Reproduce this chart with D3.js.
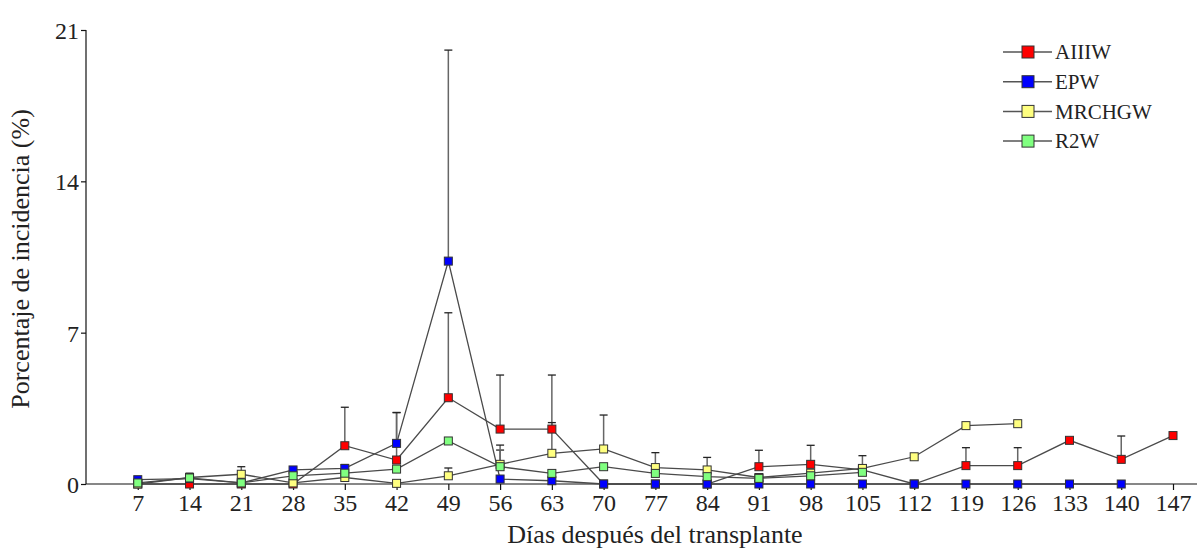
<!DOCTYPE html>
<html>
<head>
<meta charset="utf-8">
<script src="https://cdn.jsdelivr.net/npm/d3@7"></script>
<style>
  body { margin: 0; background: #fff; }
  svg text { font-family: "Liberation Serif", "DejaVu Serif", serif; fill: #222; }
</style>
</head>
<body>
<svg id="chart" width="1197" height="552"></svg>
<script>
// days after transplant
const days = [7, 14, 21, 28, 35, 42, 49, 56, 63, 70, 77, 84, 91, 98, 105, 112, 119, 126, 133, 140, 147];
const yTicks = [0, 7, 14, 21];

// mean incidence (%) per series, null = not sampled
const aiiiw  = [0, 0, 0, 0, 1.77, 1.11, 3.99, 2.54, 2.54, 0, 0, 0, 0.8, 0.91, 0.65, 0, 0.85, 0.85, 2.02, 1.14, 2.24];
const epw    = [0.2, 0.25, 0.05, 0.65, 0.72, 1.88, 10.31, 0.23, 0.15, 0, 0, 0, 0, 0, 0, 0, 0, 0, 0, 0, null];
const mrchgw = [0, 0.3, 0.45, 0.05, 0.3, 0.03, 0.38, 0.91, 1.42, 1.62, 0.76, 0.65, 0.3, 0.5, 0.72, 1.26, 2.7, 2.79, null, null, null];
const r2w    = [0.05, 0.28, 0.05, 0.38, 0.5, 0.69, 1.99, 0.8, 0.49, 0.8, 0.49, 0.34, 0.26, 0.38, 0.54, null, null, null, null, null, null];

// upper error (sd) per series, null = no bar drawn
const aiiiwErr  = [null, null, null, null, 1.78, 2.2, 3.93, 2.5, 2.5, null, null, null, 0.76, 0.88, null, null, 0.83, 0.83, null, 1.08, null];
const epwErr    = [null, 0.25, null, null, 0.18, 1.42, 9.76, null, null, null, null, null, null, null, null, null, null, null, null, null, null];
const mrchgwErr = [null, null, 0.35, null, null, null, 0.36, 0.66, 1.42, 1.57, 0.69, 0.58, null, null, 0.59, null, null, null, null, null, null];
const r2wErr    = [null, null, null, null, null, null, null, 1.0, null, null, null, null, null, null, 0.34, null, null, null, null, null, null];

const seriesNames = ['AIIIW', 'EPW', 'MRCHGW', 'R2W'];
const seriesColors = ['#ff0000', '#0000ff', '#ffff80', '#80ff80'];
const seriesValues = [aiiiw, epw, mrchgw, r2w];
const seriesErrors = [aiiiwErr, epwErr, mrchgwErr, r2wErr];

const svg = d3.select('#chart');

const x = d3.scaleLinear().domain([0, 147]).range([86, 1173]);
const y = d3.scaleLinear().domain([0, 21]).range([484, 30]);

// --- axes ---
const xAxis = svg.append('g')
    .attr('transform', `translate(0,${y(0)})`)
    .call(d3.axisBottom(x).tickValues(days).tickSize(6).tickPadding(4));
xAxis.select('.domain').attr('d', `M${x(0)},0H1197`);

const yAxis = svg.append('g')
    .attr('transform', `translate(${x(0)},0)`)
    .call(d3.axisLeft(y).tickValues(yTicks).tickSize(5).tickPadding(2));
yAxis.select('.domain').attr('d', `M0,${y(21)}V${y(0)}`);

svg.selectAll('.tick text').style('font-size', '24px').attr('fill', '#222');
svg.selectAll('.tick line, .domain').attr('stroke', '#111').attr('stroke-width', 1.2);
yAxis.selectAll('.tick text').attr('dy', '0.35em');

svg.append('text')
    .attr('x', 655).attr('y', 543)
    .attr('text-anchor', 'middle')
    .style('font-size', '26px')
    .text('Días después del transplante');

svg.append('text')
    .attr('transform', `translate(29,259) rotate(-90)`)
    .attr('text-anchor', 'middle')
    .style('font-size', '26px')
    .text('Porcentaje de incidencia (%)');

// --- series ---
const plot = svg.append('g');
const line = d3.line()
    .defined(d => d.v !== null)
    .x(d => x(d.day))
    .y(d => y(d.v));

const data = seriesValues.map((vals, s) => vals.map((v, i) => ({ day: days[i], v: v, err: seriesErrors[s][i] })));

data.forEach(pts => {
    plot.append('path')
        .datum(pts)
        .attr('d', line)
        .attr('fill', 'none')
        .attr('stroke', '#4a4a4a')
        .attr('stroke-width', 1.3);
});

// error bars (upper only)
data.forEach(pts => {
    const withErr = pts.filter(d => d.v !== null && d.err !== null);
    plot.selectAll(null).data(withErr).enter().append('line')
        .attr('x1', d => x(d.day)).attr('x2', d => x(d.day))
        .attr('y1', d => y(d.v)).attr('y2', d => y(d.v + d.err))
        .attr('stroke', '#666').attr('stroke-width', 1.5);
    plot.selectAll(null).data(withErr).enter().append('line')
        .attr('x1', d => x(d.day) - 4).attr('x2', d => x(d.day) + 4)
        .attr('y1', d => y(d.v + d.err)).attr('y2', d => y(d.v + d.err))
        .attr('stroke', '#222').attr('stroke-width', 1.3);
});

// markers: red, yellow, blue, green on top
const markerOrder = [0, 2, 1, 3];
const M = 8;
markerOrder.forEach(s => {
    plot.selectAll(null).data(data[s].filter(d => d.v !== null)).enter().append('rect')
        .attr('x', d => x(d.day) - M / 2)
        .attr('y', d => y(d.v) - M / 2)
        .attr('width', M).attr('height', M)
        .attr('fill', seriesColors[s])
        .attr('stroke', '#333')
        .attr('stroke-width', 1);
});

// --- legend ---
const legend = svg.append('g').attr('transform', 'translate(1003,52)');
seriesNames.forEach((name, i) => {
    const g = legend.append('g').attr('transform', `translate(0,${i * 29.7})`);
    g.append('line').attr('x1', 0).attr('x2', 49).attr('y1', 0).attr('y2', 0)
        .attr('stroke', '#555').attr('stroke-width', 1.5);
    g.append('rect').attr('x', 19).attr('y', -6).attr('width', 12).attr('height', 12)
        .attr('fill', seriesColors[i]).attr('stroke', '#333').attr('stroke-width', 1);
    g.append('text').attr('x', 52).attr('y', 0).attr('dy', '0.35em')
        .style('font-size', '21px').text(name);
});
</script>
</body>
</html>
